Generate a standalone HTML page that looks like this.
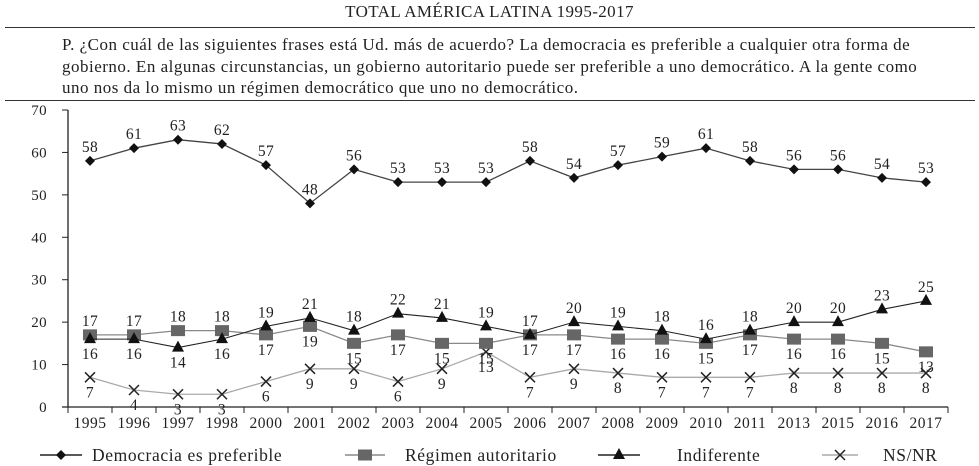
<!DOCTYPE html>
<html><head><meta charset="utf-8"><style>
body{margin:0;background:#fff;width:979px;height:466px;overflow:hidden;font-family:"Liberation Serif",serif;color:#222}
#title{position:absolute;top:2px;left:0;width:979px;text-align:center;font-size:17px;letter-spacing:0.4px}
#q{position:absolute;top:27px;left:5px;width:970px;height:72px;border-top:1.5px solid #333;border-bottom:1.5px solid #333}
#q p{margin:0;position:absolute;left:57px;top:6px;font-size:17px;letter-spacing:0.5px;line-height:21.5px;width:910px;white-space:nowrap}
svg{position:absolute;left:0;top:0}
</style></head><body>
<div id="title">TOTAL AMÉRICA LATINA 1995-2017</div>
<div id="q"><p>P. ¿Con cuál de las siguientes frases está Ud. más de acuerdo? La democracia es preferible a cualquier otra forma de<br>gobierno. En algunas circunstancias, un gobierno autoritario puede ser preferible a uno democrático. A la gente como<br>uno nos da lo mismo un régimen democrático que uno no democrático.</p></div>
<svg id="chart" width="979" height="466"></svg>
<script>
const years=["1995","1996","1997","1998","2000","2001","2002","2003","2004","2005","2006","2007","2008","2009","2010","2011","2013","2015","2016","2017"];
const demo=[58,61,63,62,57,48,56,53,53,53,58,54,57,59,61,58,56,56,54,53];
const regimen=[17,17,18,18,17,19,15,17,15,15,17,17,16,16,15,17,16,16,15,13];
const indif=[16,16,14,16,19,21,18,22,21,19,17,20,19,18,16,18,20,20,23,25];
const nsnr=[7,4,3,3,6,9,9,6,9,13,7,9,8,7,7,7,8,8,8,8];
const yTicks=[0,10,20,30,40,50,60,70];
const regPos="aaaabbbbbbabbbbbbbbb";
const indPos="bbbbaaaaaabaaaaaaaaa";
const svg=document.getElementById('chart');const NS='http://www.w3.org/2000/svg';
const X0=68,X1=948,Y0=407,YT=110;
const step=(X1-X0)/years.length;
const xs=i=>X0+step*(i+0.5);
const ys=v=>Y0-(Y0-YT)*v/70;
function mk(t,a,p){const e=document.createElementNS(NS,t);for(const k in a)e.setAttribute(k,a[k]);(p||svg).appendChild(e);return e;}
function txt(x,y,s,anchor,size,ls){const e=mk('text',{x:x,y:y,'text-anchor':anchor||'middle','font-size':size||15,'letter-spacing':ls||0.4,'font-family':'Liberation Serif, serif',fill:'#222'});e.textContent=s;return e;}
let ax=mk('line',{x1:X0,y1:YT,x2:X0,y2:Y0,stroke:'#222','stroke-width':1.3});

let bx=mk('line',{x1:X0-6,y1:Y0,x2:X1,y2:Y0,stroke:'#222','stroke-width':1.3});

yTicks.forEach(v=>{mk('line',{x1:X0-6,y1:ys(v),x2:X0,y2:ys(v),stroke:'#222'});
 const t=txt(47,ys(v)+5,String(v),'end',15);});
for(let i=0;i<=years.length;i++){mk('line',{x1:X0+step*i,y1:Y0,x2:X0+step*i,y2:Y0+6,stroke:'#222'});}
years.forEach((y,i)=>{const t=txt(xs(i),428,y,'middle',15.5,0.5);});
function series(vals,color,marker,name,pos,lw){
 const g=mk('g',{});
 mk('polyline',{points:vals.map((v,i)=>xs(i)+','+ys(v)).join(' '),fill:'none',stroke:color,'stroke-width':lw||1.2},g);
 vals.forEach((v,i)=>{drawMarker(g,marker,xs(i),ys(v));
  const above=pos[i]==='a';const t=txt(xs(i),above?ys(v)-9:ys(v)+20,String(v),'middle',15.5);g.appendChild(t);});
}
function drawMarker(g,m,x,y){
 if(m==='d')mk('polygon',{points:`${x},${y-5} ${x+5},${y} ${x},${y+5} ${x-5},${y}`,fill:'#111'},g);
 else if(m==='s')mk('rect',{x:x-7,y:y-5.5,width:14,height:11,fill:'#666'},g);
 else if(m==='t')mk('polygon',{points:`${x},${y-7} ${x+6},${y+4} ${x-6},${y+4}`,fill:'#111'},g);
 else{mk('path',{d:`M${x-5},${y-5}L${x+5},${y+5}M${x+5},${y-5}L${x-5},${y+5}`,stroke:'#222','stroke-width':1.5},g);}
}
series(nsnr,'#aaa','x','series-ns-nr','b'.repeat(20),1.3);
series(regimen,'#888','s','series-regimen-autoritario',regPos,1.3);
series(indif,'#222','t','series-indiferente',indPos,1.1);
series(demo,'#444','d','series-democracia','a'.repeat(20),1.3);
const leg=[["Democracia es preferible",'d',40,82,92,'#222'],["Régimen autoritario",'s',345,385,405,'#888'],["Indiferente",'t',598,640,677,'#222'],["NS/NR",'x',822,858,883,'#aaa']];
leg.forEach(l=>{const g=mk('g',{});
 mk('line',{x1:l[2],y1:455,x2:l[3],y2:455,stroke:l[5],'stroke-width':1.5},g);drawMarker(g,l[1],(l[2]+l[3])/2,455);
 const t=txt(l[4],461,l[0],'start',17.5,0.6);g.appendChild(t);});
</script>
</body></html>
